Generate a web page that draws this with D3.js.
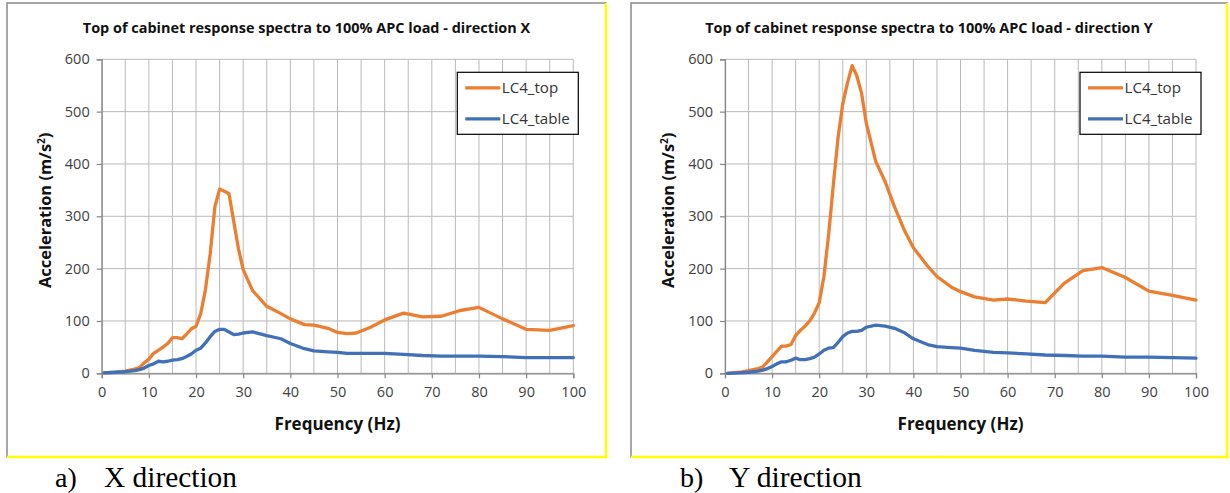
<!DOCTYPE html>
<html><head><meta charset="utf-8">
<script src="https://cdn.jsdelivr.net/npm/d3@7"></script>
<style>body{margin:0;background:#fff}</style>
</head><body>
<svg id="c" width="1230" height="493"></svg>
<script>
// ---- data ----
const freqX  = [0.5,3,5,7,8,9,10,11,12,13,14,15,16,17,18,19,20,21,22,23,24,25,26,27,28,29,30,32,35,38,40,43,45,48,50,52,54,57,60,64,68,72,76,80,85,90,95,100];
const topX   = [1,2,4,8,11,20,27,38,44,50,57,68,68,66,75,85,90,114,160,228,318,352,348,343,290,238,198,158,128,114,104,93,92,86,78,76,77,88,102,115,108,109,120,126,104,84,82,91];
const tableX = [1,2,3,5,7,10,15,18,23,22,23,25,26,28,32,37,44,48,58,70,80,84,84,79,74,75,77,79,72,66,57,47,43,41,40,38,38,38,38,36,34,33,33,33,32,30,30,30];

const freqY  = [0.5,3,5,7,8,9,10,11,12,13,14,15,16,17,18,19,20,21,22,23,24,25,26,27,28,29,30,32,34,36,38,40,43,45,48,50,53,57,60,64,68,72,76,80,85,90,95,100];
const topY   = [0,2,5,9,12,22,32,42,52,52,55,72,82,90,100,115,135,185,265,360,450,515,555,588,568,535,478,405,366,318,275,240,205,185,165,156,146,140,142,138,135,172,196,202,183,157,149,140];
const tableY = [0,1,2,4,6,9,13,18,22,22,25,29,26,26,28,31,37,44,48,49,59,70,77,80,80,82,88,92,90,86,78,66,55,51,49,48,44,40,39,37,35,34,33,33,31,31,30,29];

const xTickValues = [0,10,20,30,40,50,60,70,80,90,100];
const xGridValues = [0,5,10,15,20,25,30,35,40,45,50,55,60,65,70,75,80,85,90,95,100];
const yTickValues = [0,100,200,300,400,500,600];
const seriesNames = ["LC4_top","LC4_table"];
const chartTitles = ["Top of cabinet response spectra to 100% APC load - direction X",
                     "Top of cabinet response spectra to 100% APC load - direction Y"];
const captionLetters = ["a)","b)"];
const captionTexts = ["X direction","Y direction"];
const xTitle = "Frequency (Hz)";

// ---- layout ----
const colors = ["#EB7E30","#4170B8"];
const panels = [
  {frame:[7,3,606,457], plot:[101.7,573.3,59.3,373.3], freq:freqX, top:topX, table:tableX, cap:[55,104]},
  {frame:[631,3,1227,457], plot:[725,1196,59.3,373.3], freq:freqY, top:topY, table:tableY, cap:[680,729]}
];
const font = "'Open Sans', Lato, sans-serif";
const serif = "'Liberation Serif', 'Times New Roman', serif";
const svg = d3.select("#c");

function fit(sel, w){
  const l = sel.node().getComputedTextLength();
  const fs = parseFloat(sel.attr("font-size"));
  sel.attr("font-size", fs*w/l);
  return fs*w/l;
}

panels.forEach((p,i)=>{
  const [fx0,fy0,fx1,fy1] = p.frame;
  const [L,R,T,B] = p.plot;
  const g = svg.append("g");
  // frame
  g.append("rect").attr("x",fx0).attr("y",fy0).attr("width",fx1-fx0).attr("height",fy1-fy0)
    .attr("fill","#fff").attr("stroke","#8a8a8a").attr("stroke-width",1.5);
  g.append("line").attr("x1",fx1).attr("x2",fx1).attr("y1",fy0).attr("y2",fy1+1.5)
    .attr("stroke","#ffff00").attr("stroke-width",2.5);
  g.append("line").attr("x1",fx0).attr("x2",fx1+1.2).attr("y1",fy1).attr("y2",fy1)
    .attr("stroke","#ffff00").attr("stroke-width",2.5);

  const x = d3.scaleLinear().domain([0,100]).range([L,R]);
  const y = d3.scaleLinear().domain([0,600]).range([B,T]);

  // grid
  g.append("g").selectAll("line").data(xGridValues).join("line")
    .attr("x1",d=>x(d)).attr("x2",d=>x(d)).attr("y1",T).attr("y2",B)
    .attr("stroke","#b9b9b9").attr("stroke-width",1);
  g.append("g").selectAll("line").data(yTickValues).join("line")
    .attr("x1",L).attr("x2",R).attr("y1",d=>y(d)).attr("y2",d=>y(d))
    .attr("stroke","#b9b9b9").attr("stroke-width",1);

  // axes
  const ax = g.append("g").attr("transform",`translate(0,${B})`)
    .call(d3.axisBottom(x).tickValues(xTickValues).tickSize(5).tickPadding(8).tickFormat(d3.format("d")));
  const ay = g.append("g").attr("transform",`translate(${L},0)`)
    .call(d3.axisLeft(y).tickValues(yTickValues).tickSize(5).tickPadding(7).tickFormat(d3.format("d")));
  [ax,ay].forEach(a=>{
    a.select(".domain").attr("stroke","#868686").attr("stroke-width",1.2);
    a.selectAll(".tick line").attr("stroke","#868686").attr("stroke-width",1.2);
    a.selectAll(".tick text").attr("font-family",font).attr("font-size",14.5).attr("fill","#404040");
  });

  // lines
  const line = d3.line().x(d=>x(d[0])).y(d=>y(d[1]));
  [p.top,p.table].forEach((vals,k)=>{
    g.append("path").datum(p.freq.map((f,j)=>[f,vals[j]]))
      .attr("d",line).attr("fill","none").attr("stroke",colors[k])
      .attr("stroke-width",3.3).attr("stroke-linejoin","round").attr("stroke-linecap","round");
  });

  // title
  const tt = g.append("text").attr("x",(fx0+fx1)/2).attr("y",33).attr("text-anchor","middle")
    .attr("font-family",font).attr("font-weight","bold").attr("font-size",14).attr("fill","#111")
    .text(chartTitles[i]);
  fit(tt, 448);
  // x title
  const xt = g.append("text").attr("x",(L+R)/2).attr("y",430).attr("text-anchor","middle")
    .attr("font-family",font).attr("font-weight","bold").attr("font-size",15).attr("fill","#111")
    .text(xTitle);
  fit(xt, 126);
  // y title
  const yt = g.append("text").attr("transform",`translate(${L-51},${(T+B)/2-6}) rotate(-90)`)
    .attr("text-anchor","middle").attr("font-family",font).attr("font-weight","bold")
    .attr("font-size",15).attr("fill","#111");
  yt.append("tspan").text("Acceleration (m/s");
  yt.append("tspan").attr("font-size",10).attr("dy",-6).text("2");
  yt.append("tspan").attr("dy",6).text(")");
  fit(yt, 156);

  // legend
  const lx = R-116, ly = 72.3;
  g.append("rect").attr("x",lx).attr("y",ly).attr("width",121).attr("height",62)
    .attr("fill","#fff").attr("stroke","#000").attr("stroke-width",1.2);
  let lfs = 14;
  seriesNames.slice().reverse().forEach((n,kk)=>{
    const k = seriesNames.length-1-kk;
    const yy = ly + 15.5 + k*31;
    g.append("line").attr("x1",lx+8).attr("x2",lx+43).attr("y1",yy).attr("y2",yy)
      .attr("stroke",colors[k]).attr("stroke-width",3.3);
    const t = g.append("text").attr("x",lx+44.5).attr("y",yy+5).attr("font-family",font)
      .attr("font-size",lfs).attr("fill","#333").text(n);
    if (k===1) lfs = fit(t, 68); else t.attr("font-size", lfs);
  });

  // caption
  svg.append("text").attr("x",p.cap[0]).attr("y",487).attr("font-family",serif)
    .attr("font-size",28).attr("fill","#000").text(captionLetters[i]);
  const ct = svg.append("text").attr("x",p.cap[1]).attr("y",487).attr("font-family",serif)
    .attr("font-size",28).attr("fill","#000").text(captionTexts[i]);
  fit(ct, 133);
});
</script>
</body></html>
